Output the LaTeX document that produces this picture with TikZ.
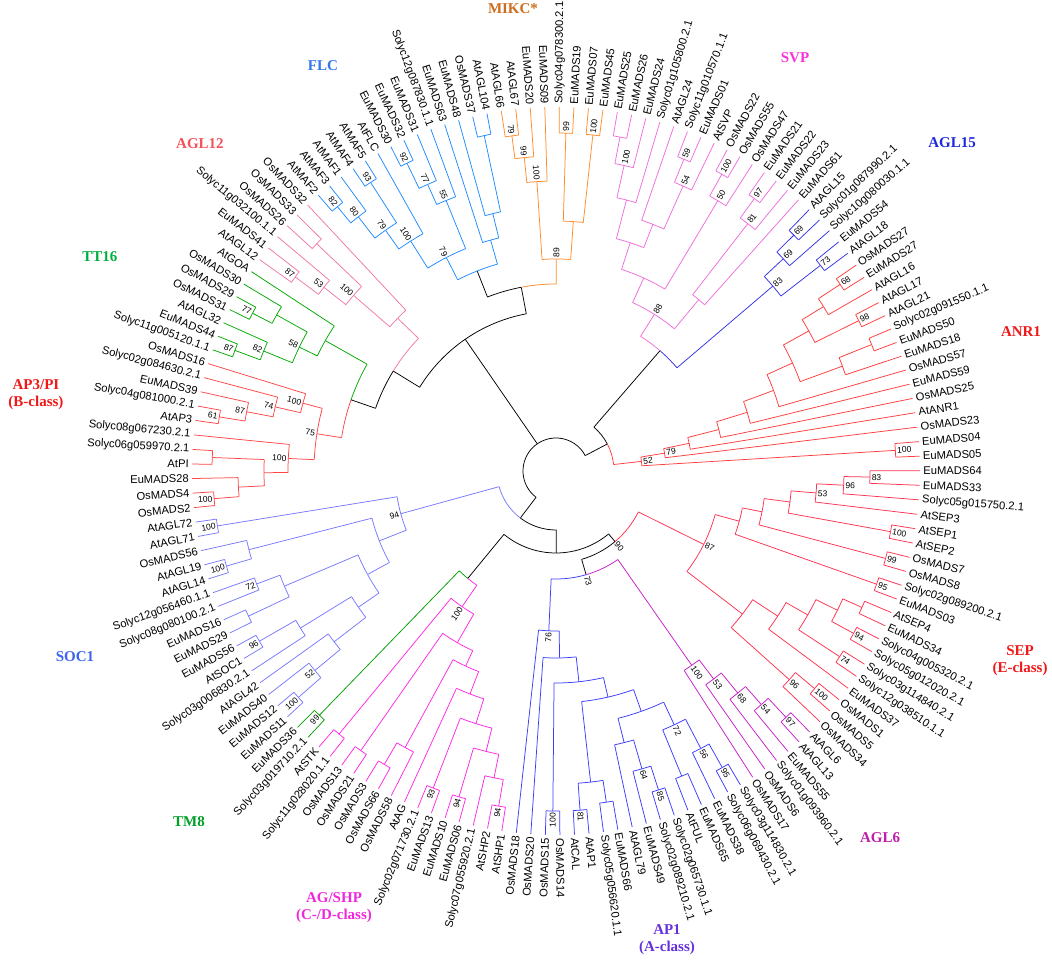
\documentclass[tikz,border=0pt]{standalone}
\usepackage{fontspec}
\setmainfont{Liberation Sans}
\newfontfamily\ttlfont{Liberation Serif}
\definecolor{cFLC}{RGB}{30,140,255}
\definecolor{cMIK}{RGB}{255,140,40}
\definecolor{cSVP}{RGB}{240,110,220}
\definecolor{cA15}{RGB}{50,50,230}
\definecolor{cANR}{RGB}{255,60,60}
\definecolor{cSEP}{RGB}{255,50,80}
\definecolor{cAG6}{RGB}{200,30,200}
\definecolor{cAP1}{RGB}{60,60,255}
\definecolor{cAG}{RGB}{255,40,230}
\definecolor{cTM8}{RGB}{0,160,0}
\definecolor{cSOC}{RGB}{120,120,255}
\definecolor{cAP3}{RGB}{255,70,70}
\definecolor{cT16}{RGB}{0,170,0}
\definecolor{cA12}{RGB}{240,120,170}
\definecolor{tMIK}{RGB}{205,110,30}
\definecolor{tFLC}{RGB}{50,120,235}
\definecolor{tSVP}{RGB}{250,50,215}
\definecolor{tA15}{RGB}{30,40,220}
\definecolor{tA12}{RGB}{245,80,90}
\definecolor{tT16}{RGB}{0,175,60}
\definecolor{tRED}{RGB}{240,25,25}
\definecolor{tSOC}{RGB}{60,100,240}
\definecolor{tTM8}{RGB}{0,160,40}
\definecolor{tAG6}{RGB}{190,30,170}
\definecolor{tAG}{RGB}{240,40,220}
\definecolor{tAP1}{RGB}{100,50,220}
% tree helpers
\newcommand\trI[1]{\csname I@#1\endcsname}
\newcommand\trR[1]{\csname R@#1\endcsname}
\newcommand\trDef[4]{%
  \pgfmathsetmacro\trTa{#3}\pgfmathsetmacro\trTb{#4}%
  \pgfmathsetmacro\trTc{(\trTa+\trTb)/2}%
  \expandafter\xdef\csname A@#1\endcsname{\trTa}%
  \expandafter\xdef\csname B@#1\endcsname{\trTb}%
  \expandafter\xdef\csname I@#1\endcsname{\trTc}%
  \expandafter\xdef\csname R@#1\endcsname{#2}}
\newcommand\trBs[2]{%
  \ifx\relax#2\relax\else
  \pgfmathsetmacro\trT{112.4-2.293*(\trI{#1})}%
  \pgfmathsetmacro\trRb{\trR{#1}+1.5}%
  \pgfmathtruncatemacro\trRt{cos(\trT)>=0}%
  \ifnum\trRt=1 \node[bsf,anchor=west,rotate=\trT] (b-#1) at (\trT:\trRb) {#2};%
  \else\pgfmathsetmacro\trRot{\trT+180}\node[bsf,anchor=east,rotate=\trRot] (b-#1) at (\trT:\trRb) {#2};\fi
  \fi}
\newcommand\trNode[6]{% node parent stemcol colA colB bs
  \pgfmathsetmacro\trT{112.4-2.293*(\trI{#1})}%
  \draw[#3] (\trT:\trR{#2}) -- (\trT:\trR{#1});
  \pgfmathsetmacro\trA{112.4-2.293*(\csname A@#1\endcsname)}%
  \pgfmathsetmacro\trB{112.4-2.293*(\csname B@#1\endcsname)}%
  \draw[#4] (\trA:\trR{#1}) arc[start angle=\trA,end angle=\trT,radius=\trR{#1}];
  \draw[#5] (\trT:\trR{#1}) arc[start angle=\trT,end angle=\trB,radius=\trR{#1}];
  \trBs{#1}{#6}}
\newcommand\trN[4]{\trNode{#1}{#2}{#3}{#3}{#3}{#4}}
\newcommand\trL[4]{% idx parent color text
  \pgfmathsetmacro\trT{112.4-2.293*(#1)}%
  \draw[#3] (\trT:\trR{#2}) -- (\trT:364);
  \pgfmathtruncatemacro\trRt{cos(\trT)>=0}%
  \ifnum\trRt=1 \node[lbl,anchor=west,rotate=\trT] (L#1) at (\trT:367) {#4};%
  \else\pgfmathsetmacro\trRot{\trT+180}\node[lbl,anchor=east,rotate=\trRot] (L#1) at (\trT:367) {#4};\fi}
\begin{document}
\begin{tikzpicture}[x=1pt,y=1pt,line width=0.75pt,
  lbl/.style={font=\fontsize{11.2}{13}\selectfont,inner sep=0pt},
  bsf/.style={font=\fontsize{8.5}{10}\selectfont,inner sep=0pt},
  ttl/.style={font=\ttlfont\bfseries\fontsize{15}{17}\selectfont,align=center,inner sep=0pt}]
\fill[white] (-556,-492) rectangle (496,471);
\useasboundingbox (-556,-492) rectangle (496,471);
\expandafter\xdef\csname R@root\endcsname{33}
% ---------- definitions ----------
% FLC
\trDef{c82}{343}{-8}{-7}
\trDef{c80}{322}{\trI{c82}}{-6}
\trDef{c93}{343}{-5}{-4}
\trDef{c79}{295}{\trI{c80}}{\trI{c93}}
\trDef{c100}{272}{\trI{c79}}{-3}
\trDef{c92}{342}{-2}{-1}
\trDef{c77}{314}{\trI{c92}}{0}
\trDef{c55}{292}{\trI{c77}}{1}
\trDef{c79b}{240}{\trI{c100}}{\trI{c55}}
\trDef{c45}{343}{4}{5}
\trDef{cB1}{265}{3}{\trI{c45}}
\trDef{cB}{240}{2}{\trI{cB1}}
\trDef{cR}{215}{\trI{c79b}}{\trI{cB}}
% MIKC*
\trDef{m79}{338}{6}{7}
\trDef{m99}{315}{\trI{m79}}{8}
\trDef{m100}{290}{\trI{m99}}{9}
\trDef{m99b}{338}{10}{11}
\trDef{m100b}{338}{12}{13}
\trDef{mX}{250}{\trI{m99b}}{\trI{m100b}}
\trDef{m89}{212}{\trI{m100}}{\trI{mX}}
\trDef{N2b}{187}{\trI{cR}}{\trI{m89}}
% AGL12
\trDef{l87}{325}{-14}{-13}
\trDef{l53}{296}{\trI{l87}}{-12}
\trDef{lX}{330}{-11}{-10}
\trDef{l100}{268}{\trI{l53}}{\trI{lX}}
\trDef{lR}{220}{\trI{l100}}{-9}
% TT16
\trDef{t87}{343}{-21}{-20}
\trDef{t82}{316}{\trI{t87}}{-19}
\trDef{t77}{342}{-18}{-17}
\trDef{t77b}{320}{\trI{t77}}{-16}
\trDef{t58}{285}{\trI{t82}}{\trI{t77b}}
\trDef{tR}{265}{\trI{t58}}{-15}
% AP3/PI
\trDef{p100a}{343}{-32}{-31}
\trDef{pE}{318}{-30}{\trI{p100a}}
\trDef{pPI}{344}{-29}{-28}
\trDef{pM}{292}{\trI{pPI}}{\trI{pE}}
\trDef{p100c}{268}{-27}{\trI{pM}}
\trDef{p61}{341}{-26}{-25}
\trDef{p87}{315}{\trI{p61}}{-24}
\trDef{p74}{288}{\trI{p87}}{-23}
\trDef{p100u}{262}{\trI{p74}}{-22}
\trDef{p75}{242}{\trI{p100u}}{\trI{p100c}}
\trDef{Q}{217}{\trI{tR}}{\trI{p75}}
\trDef{N2c}{191}{\trI{lR}}{\trI{Q}}
\trDef{N2}{160}{\trI{N2b}}{\trI{N2c}}
% SVP
\trDef{va1}{340}{14}{15}
\trDef{va2}{313}{\trI{va1}}{16}
\trDef{va3}{280}{\trI{va2}}{17}
\trDef{vb1}{337}{19}{20}
\trDef{vb2}{312}{\trI{vb1}}{21}
\trDef{vb3}{265}{18}{\trI{vb2}}
\trDef{vA}{240}{\trI{va3}}{\trI{vb3}}
\trDef{vc1}{340}{22}{23}
\trDef{vc2}{315}{\trI{vc1}}{24}
\trDef{vAA}{212}{\trI{vA}}{\trI{vc2}}
\trDef{vd1}{337}{25}{26}
\trDef{vd2}{313}{\trI{vd1}}{27}
\trDef{vd3}{223}{\trI{vd2}}{28}
\trDef{v88}{185}{\trI{vAA}}{\trI{vd3}}
% AGL15
\trDef{q69a}{335}{29}{30}
\trDef{q69b}{311}{\trI{q69a}}{31}
\trDef{q73}{335}{32}{33}
\trDef{q83}{285}{\trI{q69b}}{\trI{q73}}
\trDef{P}{159}{\trI{v88}}{\trI{q83}}
% ANR1
\trDef{n68}{340}{34}{35}
\trDef{nb}{314}{\trI{n68}}{36}
\trDef{n98}{338}{37}{38}
\trDef{nc}{289}{\trI{nb}}{\trI{n98}}
\trDef{nd}{340}{39}{40}
\trDef{ne}{305}{\trI{nd}}{41}
\trDef{n7}{260}{\trI{nc}}{\trI{ne}}
\trDef{n6}{232}{\trI{n7}}{42}
\trDef{n5}{200}{\trI{n6}}{43}
\trDef{n4}{168}{\trI{n5}}{44}
\trDef{n3}{136}{\trI{n4}}{45}
\trDef{n79}{110}{\trI{n3}}{46}
\trDef{n100}{340}{47}{48}
\trDef{n52}{86}{\trI{n79}}{\trI{n100}}
\trDef{N1}{58}{\trI{P}}{\trI{n52}}
% SEP
\trDef{e83}{314}{49}{50}
\trDef{e96}{288}{\trI{e83}}{51}
\trDef{e53}{261}{\trI{e96}}{52}
\trDef{e100}{340}{53}{54}
\trDef{eA}{236}{\trI{e53}}{\trI{e100}}
\trDef{e99}{341}{55}{56}
\trDef{eB}{210}{\trI{eA}}{\trI{e99}}
\trDef{e95}{340}{57}{58}
\trDef{eC}{190}{\trI{eB}}{\trI{e95}}
\trDef{f1}{335}{59}{60}
\trDef{f94}{339}{61}{62}
\trDef{f2}{314}{\trI{f1}}{\trI{f94}}
\trDef{f74}{339}{63}{64}
\trDef{f3}{290}{\trI{f2}}{\trI{f74}}
\trDef{f4}{265}{\trI{f3}}{65}
\trDef{f100}{338}{66}{67}
\trDef{f96}{313}{\trI{f100}}{68}
\trDef{f5}{235}{\trI{f4}}{\trI{f96}}
\trDef{e87}{165}{\trI{eC}}{\trI{f5}}
% AGL6
\trDef{h97}{337}{69}{70}
\trDef{h54}{311}{\trI{h97}}{71}
\trDef{h68}{287}{\trI{h54}}{72}
\trDef{h53}{261}{\trI{h68}}{73}
\trDef{h100}{237}{\trI{h53}}{74}
% AP1
\trDef{k95}{340}{75}{76}
\trDef{k56}{313}{\trI{k95}}{77}
\trDef{k7879}{330}{78}{79}
\trDef{k72}{280}{\trI{k56}}{\trI{k7879}}
\trDef{k85}{335}{80}{81}
\trDef{k64}{310}{\trI{k85}}{82}
\trDef{kG}{280}{\trI{k64}}{83}
\trDef{kF}{255}{\trI{k72}}{\trI{kG}}
\trDef{k8485}{335}{84}{85}
\trDef{k81}{340}{86}{87}
\trDef{kAP}{313}{\trI{k8485}}{\trI{k81}}
\trDef{kW}{232}{\trI{kF}}{\trI{kAP}}
\trDef{k001}{340}{88}{89}
\trDef{kZ}{212}{\trI{kW}}{\trI{k001}}
\trDef{k187}{187}{\trI{kZ}}{90}
\trDef{k76}{160}{\trI{k187}}{91}
\trDef{Z73}{108}{\trI{h100}}{\trI{k76}}
\trDef{Y}{92}{\trI{e87}}{\trI{Z73}}
% TM8 + AG
\trDef{tm99}{340}{107}{108}
\trDef{g94a}{340}{92}{93}
\trDef{gg1}{313}{\trI{g94a}}{94}
\trDef{g94b}{340}{95}{96}
\trDef{gg2}{289}{\trI{gg1}}{\trI{g94b}}
\trDef{g93}{340}{97}{98}
\trDef{gg3}{265}{\trI{gg2}}{\trI{g93}}
\trDef{gg4}{239}{\trI{gg3}}{99}
\trDef{g6}{340}{101}{102}
\trDef{g7}{315}{100}{\trI{g6}}
\trDef{gg8}{215}{\trI{gg4}}{\trI{g7}}
\trDef{g5}{341}{103}{104}
\trDef{gg9}{198}{\trI{gg8}}{\trI{g5}}
\trDef{g10}{341}{105}{106}
\trDef{gR}{165}{\trI{gg9}}{\trI{g10}}
\trDef{X}{139}{\trI{gR}}{\trI{tm99}}
\trDef{N4}{82}{\trI{Y}}{\trI{X}}
% SOC1
\trDef{s100a}{343}{123}{124}
\trDef{s100b}{343}{120}{121}
\trDef{sC}{317}{\trI{s100b}}{122}
\trDef{s72}{320}{118}{119}
\trDef{s1617}{340}{116}{117}
\trDef{sE}{295}{\trI{s1617}}{\trI{s72}}
\trDef{s96}{342}{114}{115}
\trDef{sF}{300}{113}{\trI{s96}}
\trDef{s100c}{343}{109}{110}
\trDef{s52}{313}{\trI{s100c}}{111}
\trDef{sG}{280}{\trI{s52}}{112}
\trDef{sH}{240}{\trI{sG}}{\trI{sF}}
\trDef{sD}{215}{\trI{sH}}{\trI{sE}}
\trDef{sB}{190}{\trI{sC}}{\trI{sD}}
\trDef{s94}{161}{\trI{s100a}}{\trI{sB}}
\trDef{N3}{59}{\trI{N4}}{\trI{s94}}
% ---------- root ----------
\pgfmathsetmacro\trA{112.4-2.293*(\trI{N1})}
\pgfmathsetmacro\trB{112.4-2.293*(\trI{N3})+360}
\draw (\trA:33) arc[start angle=\trA,end angle=\trB,radius=33];
\trNode{N1}{root}{black}{black}{cANR}{}
\trNode{N2}{root}{black}{black}{black}{}
\trNode{N3}{root}{black}{black}{cSOC}{}
% FLC / MIKC*
\trNode{N2b}{N2}{black}{black}{cMIK}{}
\trNode{cR}{N2b}{black}{cFLC}{cFLC}{}
\trN{c79b}{cR}{cFLC}{79}
\trN{c100}{c79b}{cFLC}{100}
\trN{c79}{c100}{cFLC}{79}
\trN{c80}{c79}{cFLC}{80}
\trN{c82}{c80}{cFLC}{82}
\trN{c93}{c79}{cFLC}{93}
\trN{c55}{c79b}{cFLC}{55}
\trN{c77}{c55}{cFLC}{77}
\trN{c92}{c77}{cFLC}{92}
\trN{cB}{cR}{cFLC}{}
\trN{cB1}{cB}{cFLC}{}
\trN{c45}{cB1}{cFLC}{}
\trN{m89}{N2b}{cMIK}{89}
\trN{m100}{m89}{cMIK}{100}
\trN{m99}{m100}{cMIK}{99}
\trN{m79}{m99}{cMIK}{79}
\trN{mX}{m89}{cMIK}{}
\trN{m99b}{mX}{cMIK}{99}
\trN{m100b}{mX}{cMIK}{100}
% AGL12 / TT16 / AP3-PI
\trNode{N2c}{N2}{black}{cA12}{black}{}
\trN{lR}{N2c}{cA12}{}
\trN{l100}{lR}{cA12}{100}
\trN{l53}{l100}{cA12}{53}
\trN{l87}{l53}{cA12}{87}
\trN{lX}{l100}{cA12}{}
\trNode{Q}{N2c}{black}{cT16}{cAP3}{}
\trN{tR}{Q}{cT16}{}
\trN{t58}{tR}{cT16}{58}
\trN{t82}{t58}{cT16}{82}
\trN{t87}{t82}{cT16}{87}
\trN{t77b}{t58}{cT16}{}
\trN{t77}{t77b}{cT16}{77}
\trN{p75}{Q}{cAP3}{75}
\trN{p100u}{p75}{cAP3}{100}
\trN{p74}{p100u}{cAP3}{74}
\trN{p87}{p74}{cAP3}{87}
\trN{p61}{p87}{cAP3}{61}
\trN{p100c}{p75}{cAP3}{100}
\trN{pM}{p100c}{cAP3}{}
\trN{pPI}{pM}{cAP3}{}
\trN{pE}{pM}{cAP3}{}
\trN{p100a}{pE}{cAP3}{100}
% SVP / AGL15 / ANR1
\trNode{P}{N1}{black}{cSVP}{cA15}{}
\trN{v88}{P}{cSVP}{88}
\trN{vAA}{v88}{cSVP}{}
\trN{vA}{vAA}{cSVP}{}
\trN{va3}{vA}{cSVP}{}
\trN{va2}{va3}{cSVP}{100}
\trN{va1}{va2}{cSVP}{}
\trN{vb3}{vA}{cSVP}{}
\trN{vb2}{vb3}{cSVP}{54}
\trN{vb1}{vb2}{cSVP}{59}
\trN{vc2}{vAA}{cSVP}{50}
\trN{vc1}{vc2}{cSVP}{100}
\trN{vd3}{v88}{cSVP}{}
\trN{vd2}{vd3}{cSVP}{81}
\trN{vd1}{vd2}{cSVP}{97}
\trN{q83}{P}{cA15}{83}
\trN{q69b}{q83}{cA15}{69}
\trN{q69a}{q69b}{cA15}{69}
\trN{q73}{q83}{cA15}{73}
\trN{n52}{N1}{cANR}{52}
\trN{n79}{n52}{cANR}{79}
\trN{n100}{n52}{cANR}{100}
\trN{n3}{n79}{cANR}{}
\trN{n4}{n3}{cANR}{}
\trN{n5}{n4}{cANR}{}
\trN{n6}{n5}{cANR}{}
\trN{n7}{n6}{cANR}{}
\trN{nc}{n7}{cANR}{}
\trN{nb}{nc}{cANR}{}
\trN{n68}{nb}{cANR}{68}
\trN{n98}{nc}{cANR}{98}
\trN{ne}{n7}{cANR}{}
\trN{nd}{ne}{cANR}{}
% bottom
\trN{s94}{N3}{cSOC}{94}
\trN{s100a}{s94}{cSOC}{100}
\trN{sB}{s94}{cSOC}{}
\trN{sC}{sB}{cSOC}{}
\trN{s100b}{sC}{cSOC}{100}
\trN{sD}{sB}{cSOC}{}
\trN{sE}{sD}{cSOC}{}
\trN{s72}{sE}{cSOC}{72}
\trN{s1617}{sE}{cSOC}{}
\trN{sH}{sD}{cSOC}{}
\trN{sF}{sH}{cSOC}{}
\trN{s96}{sF}{cSOC}{96}
\trN{sG}{sH}{cSOC}{}
\trN{s52}{sG}{cSOC}{52}
\trN{s100c}{s52}{cSOC}{100}
\trNode{N4}{N3}{black}{black}{black}{}
\trNode{X}{N4}{black}{cAG}{cTM8}{}
\trN{tm99}{X}{cTM8}{99}
\trN{gR}{X}{cAG}{100}
\trN{gg9}{gR}{cAG}{}
\trN{g10}{gR}{cAG}{}
\trN{g5}{gg9}{cAG}{}
\trN{gg8}{gg9}{cAG}{}
\trN{g7}{gg8}{cAG}{}
\trN{g6}{g7}{cAG}{}
\trN{gg4}{gg8}{cAG}{}
\trN{gg3}{gg4}{cAG}{}
\trN{g93}{gg3}{cAG}{93}
\trN{gg2}{gg3}{cAG}{}
\trN{g94b}{gg2}{cAG}{94}
\trN{gg1}{gg2}{cAG}{}
\trN{g94a}{gg1}{cAG}{94}
\trNode{Y}{N4}{black}{cSEP}{black}{90}
\trNode{Z73}{Y}{black}{cAG6}{cAP1}{73}
\trN{e87}{Y}{cSEP}{87}
\trN{eC}{e87}{cSEP}{}
\trN{eB}{eC}{cSEP}{}
\trN{eA}{eB}{cSEP}{}
\trN{e53}{eA}{cSEP}{53}
\trN{e96}{e53}{cSEP}{96}
\trN{e83}{e96}{cSEP}{83}
\trN{e100}{eA}{cSEP}{100}
\trN{e99}{eB}{cSEP}{99}
\trN{e95}{eC}{cSEP}{95}
\trN{f5}{e87}{cSEP}{}
\trN{f4}{f5}{cSEP}{}
\trN{f3}{f4}{cSEP}{}
\trN{f2}{f3}{cSEP}{}
\trN{f1}{f2}{cSEP}{}
\trN{f94}{f2}{cSEP}{94}
\trN{f74}{f3}{cSEP}{74}
\trN{f96}{f5}{cSEP}{96}
\trN{f100}{f96}{cSEP}{100}
\trN{h100}{Z73}{cAG6}{100}
\trN{h53}{h100}{cAG6}{53}
\trN{h68}{h53}{cAG6}{68}
\trN{h54}{h68}{cAG6}{54}
\trN{h97}{h54}{cAG6}{97}
\trN{k76}{Z73}{cAP1}{76}
\trN{k187}{k76}{cAP1}{}
\trN{kZ}{k187}{cAP1}{}
\trN{k001}{kZ}{cAP1}{100}
\trN{kW}{kZ}{cAP1}{}
\trN{kF}{kW}{cAP1}{}
\trN{k72}{kF}{cAP1}{72}
\trN{k56}{k72}{cAP1}{56}
\trN{k95}{k56}{cAP1}{95}
\trN{k7879}{k72}{cAP1}{}
\trN{kG}{kF}{cAP1}{}
\trN{k64}{kG}{cAP1}{64}
\trN{k85}{k64}{cAP1}{85}
\trN{kAP}{kW}{cAP1}{}
\trN{k8485}{kAP}{cAP1}{}
\trN{k81}{kAP}{cAP1}{81}
% ---------- leaves ----------
\trL{-8}{c82}{cFLC}{AtMAF2}
\trL{-7}{c82}{cFLC}{AtMAF3}
\trL{-6}{c80}{cFLC}{AtMAF1}
\trL{-5}{c93}{cFLC}{AtMAF4}
\trL{-4}{c93}{cFLC}{AtMAF5}
\trL{-3}{c100}{cFLC}{AtFLC}
\trL{-2}{c92}{cFLC}{EuMADS30}
\trL{-1}{c92}{cFLC}{EuMADS32}
\trL{0}{c77}{cFLC}{EuMADS31}
\trL{1}{c55}{cFLC}{Solyc12g087830.1.1}
\trL{2}{cB}{cFLC}{EuMADS63}
\trL{3}{cB1}{cFLC}{EuMADS48}
\trL{4}{c45}{cFLC}{OsMADS37}
\trL{5}{c45}{cFLC}{AtAGL104}
\trL{6}{m79}{cMIK}{AtAGL66}
\trL{7}{m79}{cMIK}{AtAGL67}
\trL{8}{m99}{cMIK}{EuMADS20}
\trL{9}{m100}{cMIK}{EuMADS09}
\trL{10}{m99b}{cMIK}{Solyc04g078300.2.1}
\trL{11}{m99b}{cMIK}{EuMADS19}
\trL{12}{m100b}{cMIK}{EuMADS07}
\trL{13}{m100b}{cMIK}{EuMADS45}
\trL{14}{va1}{cSVP}{EuMADS25}
\trL{15}{va1}{cSVP}{EuMADS26}
\trL{16}{va2}{cSVP}{EuMADS24}
\trL{17}{va3}{cSVP}{Solyc01g105800.2.1}
\trL{18}{vb3}{cSVP}{AtAGL24}
\trL{19}{vb1}{cSVP}{Solyc11g010570.1.1}
\trL{20}{vb1}{cSVP}{EuMADS01}
\trL{21}{vb2}{cSVP}{AtSVP}
\trL{22}{vc1}{cSVP}{OsMADS22}
\trL{23}{vc1}{cSVP}{OsMADS55}
\trL{24}{vc2}{cSVP}{OsMADS47}
\trL{25}{vd1}{cSVP}{EuMADS21}
\trL{26}{vd1}{cSVP}{EuMADS22}
\trL{27}{vd2}{cSVP}{EuMADS23}
\trL{28}{vd3}{cSVP}{EuMADS61}
\trL{29}{q69a}{cA15}{AtAGL15}
\trL{30}{q69a}{cA15}{Solyc01g087990.2.1}
\trL{31}{q69b}{cA15}{Solyc10g080030.1.1}
\trL{32}{q73}{cA15}{EuMADS54}
\trL{33}{q73}{cA15}{AtAGL18}
\trL{34}{n68}{cANR}{OsMADS27}
\trL{35}{n68}{cANR}{EuMADS27}
\trL{36}{nb}{cANR}{AtAGL16}
\trL{37}{n98}{cANR}{AtAGL17}
\trL{38}{n98}{cANR}{AtAGL21}
\trL{39}{nd}{cANR}{Solyc02g091550.1.1}
\trL{40}{nd}{cANR}{EuMADS50}
\trL{41}{ne}{cANR}{EuMADS18}
\trL{42}{n6}{cANR}{OsMADS57}
\trL{43}{n5}{cANR}{EuMADS59}
\trL{44}{n4}{cANR}{OsMADS25}
\trL{45}{n3}{cANR}{AtANR1}
\trL{46}{n79}{cANR}{OsMADS23}
\trL{47}{n100}{cANR}{EuMADS04}
\trL{48}{n100}{cANR}{EuMADS05}
\trL{49}{e83}{cSEP}{EuMADS64}
\trL{50}{e83}{cSEP}{EuMADS33}
\trL{51}{e96}{cSEP}{Solyc05g015750.2.1}
\trL{52}{e53}{cSEP}{AtSEP3}
\trL{53}{e100}{cSEP}{AtSEP1}
\trL{54}{e100}{cSEP}{AtSEP2}
\trL{55}{e99}{cSEP}{OsMADS7}
\trL{56}{e99}{cSEP}{OsMADS8}
\trL{57}{e95}{cSEP}{Solyc02g089200.2.1}
\trL{58}{e95}{cSEP}{EuMADS03}
\trL{59}{f1}{cSEP}{AtSEP4}
\trL{60}{f1}{cSEP}{EuMADS34}
\trL{61}{f94}{cSEP}{Solyc04g005320.2.1}
\trL{62}{f94}{cSEP}{Solyc05g012020.2.1}
\trL{63}{f74}{cSEP}{Solyc03g114840.2.1}
\trL{64}{f74}{cSEP}{Solyc12g038510.1.1}
\trL{65}{f4}{cSEP}{EuMADS37}
\trL{66}{f100}{cSEP}{OsMADS1}
\trL{67}{f100}{cSEP}{OsMADS5}
\trL{68}{f96}{cSEP}{OsMADS34}
\trL{69}{h97}{cAG6}{AtAGL6}
\trL{70}{h97}{cAG6}{AtAGL13}
\trL{71}{h54}{cAG6}{EuMADS55}
\trL{72}{h68}{cAG6}{Solyc01g093960.2.1}
\trL{73}{h53}{cAG6}{OsMADS6}
\trL{74}{h100}{cAG6}{OsMADS17}
\trL{75}{k95}{cAP1}{Solyc03g114830.2.1}
\trL{76}{k95}{cAP1}{Solyc06g069430.2.1}
\trL{77}{k56}{cAP1}{EuMADS38}
\trL{78}{k7879}{cAP1}{EuMADS65}
\trL{79}{k7879}{cAP1}{AtFUL}
\trL{80}{k85}{cAP1}{Solyc02g065730.1.1}
\trL{81}{k85}{cAP1}{Solyc02g089210.2.1}
\trL{82}{k64}{cAP1}{EuMADS49}
\trL{83}{kG}{cAP1}{AtAGL79}
\trL{84}{k8485}{cAP1}{EuMADS66}
\trL{85}{k8485}{cAP1}{Solyc05g056620.1.1}
\trL{86}{k81}{cAP1}{AtAP1}
\trL{87}{k81}{cAP1}{AtCAL}
\trL{88}{k001}{cAP1}{OsMADS14}
\trL{89}{k001}{cAP1}{OsMADS15}
\trL{90}{k187}{cAP1}{OsMADS20}
\trL{91}{k76}{cAP1}{OsMADS18}
\trL{92}{g94a}{cAG}{AtSHP1}
\trL{93}{g94a}{cAG}{AtSHP2}
\trL{94}{gg1}{cAG}{Solyc07g055920.2.1}
\trL{95}{g94b}{cAG}{EuMADS06}
\trL{96}{g94b}{cAG}{EuMADS10}
\trL{97}{g93}{cAG}{EuMADS13}
\trL{98}{g93}{cAG}{Solyc02g071730.2.1}
\trL{99}{gg4}{cAG}{AtAG}
\trL{100}{g7}{cAG}{OsMADS58}
\trL{101}{g6}{cAG}{OsMADS66}
\trL{102}{g6}{cAG}{OsMADS3}
\trL{103}{g5}{cAG}{OsMADS21}
\trL{104}{g5}{cAG}{OsMADS13}
\trL{105}{g10}{cAG}{Solyc11g028020.1.1}
\trL{106}{g10}{cAG}{AtSTK}
\trL{107}{tm99}{cTM8}{Solyc03g019710.2.1}
\trL{108}{tm99}{cTM8}{EuMADS36}
\trL{109}{s100c}{cSOC}{EuMADS11}
\trL{110}{s100c}{cSOC}{EuMADS12}
\trL{111}{s52}{cSOC}{EuMADS40}
\trL{112}{sG}{cSOC}{AtAGL42}
\trL{113}{sF}{cSOC}{Solyc03g006830.2.1}
\trL{114}{s96}{cSOC}{AtSOC1}
\trL{115}{s96}{cSOC}{EuMADS56}
\trL{116}{s1617}{cSOC}{EuMADS29}
\trL{117}{s1617}{cSOC}{EuMADS16}
\trL{118}{s72}{cSOC}{Solyc08g080100.2.1}
\trL{119}{s72}{cSOC}{Solyc12g056460.1.1}
\trL{120}{s100b}{cSOC}{AtAGL14}
\trL{121}{s100b}{cSOC}{AtAGL19}
\trL{122}{sC}{cSOC}{OsMADS56}
\trL{123}{s100a}{cSOC}{AtAGL71}
\trL{124}{s100a}{cSOC}{AtAGL72}
\trL{-32}{p100a}{cAP3}{OsMADS2}
\trL{-31}{p100a}{cAP3}{OsMADS4}
\trL{-30}{pE}{cAP3}{EuMADS28}
\trL{-29}{pPI}{cAP3}{AtPI}
\trL{-28}{pPI}{cAP3}{Solyc06g059970.2.1}
\trL{-27}{p100c}{cAP3}{Solyc08g067230.2.1}
\trL{-26}{p61}{cAP3}{AtAP3}
\trL{-25}{p61}{cAP3}{Solyc04g081000.2.1}
\trL{-24}{p87}{cAP3}{EuMADS39}
\trL{-23}{p74}{cAP3}{Solyc02g084630.2.1}
\trL{-22}{p100u}{cAP3}{OsMADS16}
\trL{-21}{t87}{cT16}{Solyc11g005120.1.1}
\trL{-20}{t87}{cT16}{EuMADS44}
\trL{-19}{t82}{cT16}{AtAGL32}
\trL{-18}{t77}{cT16}{OsMADS31}
\trL{-17}{t77}{cT16}{OsMADS29}
\trL{-16}{t77b}{cT16}{OsMADS30}
\trL{-15}{tR}{cT16}{AtGOA}
\trL{-14}{l87}{cA12}{AtAGL12}
\trL{-13}{l87}{cA12}{EuMADS41}
\trL{-12}{l53}{cA12}{Solyc11g032100.1.1}
\trL{-11}{lX}{cA12}{OsMADS26}
\trL{-10}{lX}{cA12}{OsMADS33}
\trL{-9}{lR}{cA12}{OsMADS32}
% ---------- clade titles ----------
\node[ttl,text=tMIK] (tmik) at (-43,462) {MIKC*};
\node[ttl,text=tFLC] (tflc) at (-233,405) {FLC};
\node[ttl,text=tSVP] (tsvp) at (239,413) {SVP};
\node[ttl,text=tA15] (ta15) at (396,328) {AGL15};
\node[ttl,text=tA12] (ta12) at (-356,327) {AGL12};
\node[ttl,text=tT16] (tt16) at (-456,214) {TT16};
\node[ttl,text=tRED] (tanr) at (465,139) {ANR1};
\node[ttl,text=tRED] (tap3) at (-520,76) {AP3/PI\\(B-class)};
\node[ttl,text=tSOC] (tsoc) at (-481,-186) {SOC1};
\node[ttl,text=tRED] (tsep) at (464,-190) {SEP\\(E-class)};
\node[ttl,text=tTM8] (ttm8) at (-367,-351) {TM8};
\node[ttl,text=tAG6] (tag6) at (324,-367) {AGL6};
\node[ttl,text=tAG] (tag) at (-222,-437) {AG/SHP\\(C-/D-class)};
\node[ttl,text=tAP1] (tap1) at (111,-469) {AP1\\(A-class)};
\end{tikzpicture}
\end{document}
